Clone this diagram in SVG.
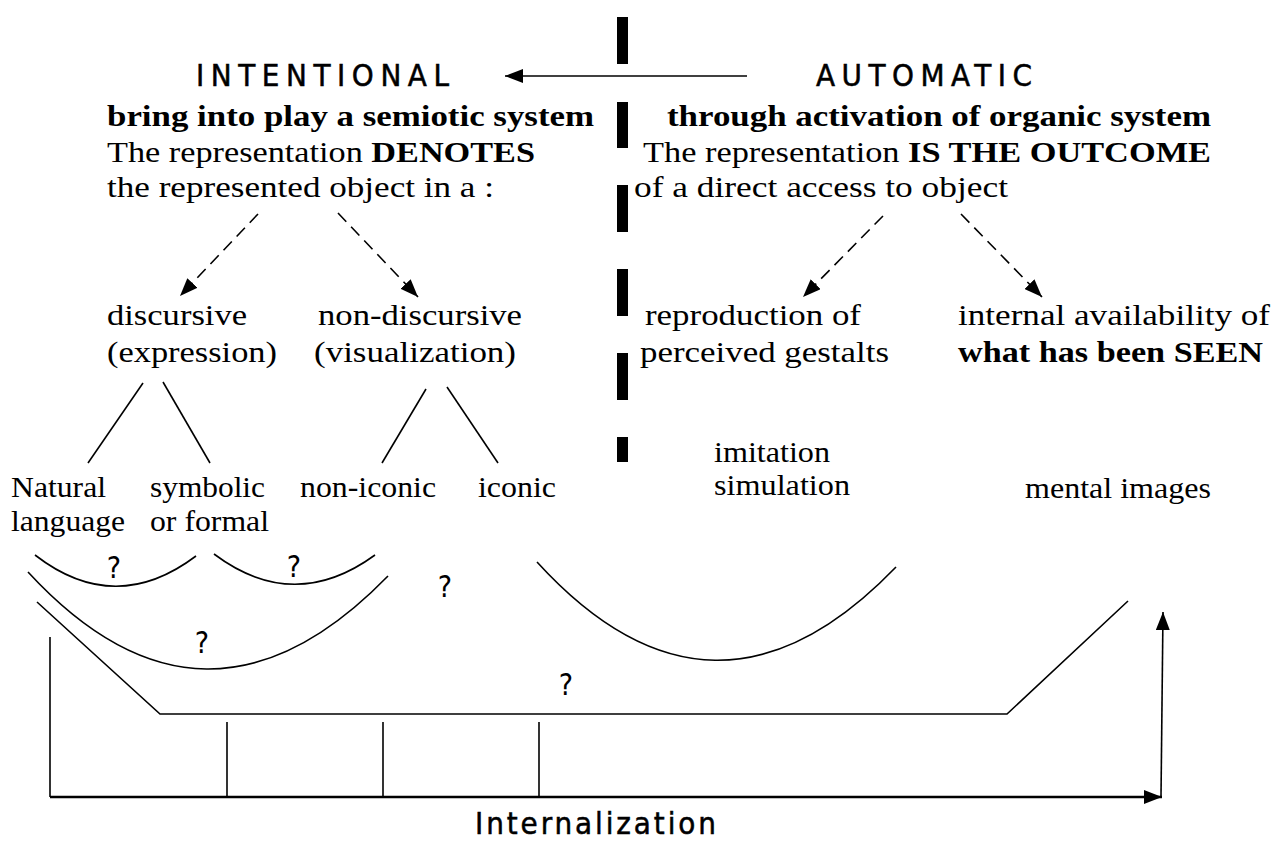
<svg xmlns="http://www.w3.org/2000/svg" width="1277" height="844" viewBox="0 0 1277 844">
<defs>
<style>
.s{font-family:"Liberation Serif","Times New Roman",serif;font-size:30px;fill:#000}
.b{font-weight:bold}
.h{font-family:"Liberation Sans Narrow","DejaVu Sans Condensed","Liberation Sans",Arial,sans-serif;font-size:31px;fill:#000;stroke:#000;stroke-width:0.5}
.q{font-family:"Liberation Sans Narrow","DejaVu Sans Condensed","Liberation Sans",Arial,sans-serif;font-size:30px;fill:#000}
.ln{stroke:#000;stroke-width:1.6;fill:none}
.ax{stroke:#000;stroke-width:2.6;fill:none}
.dl{stroke:#000;stroke-width:1.6;fill:none;stroke-dasharray:12,7}
</style>
<marker id="ah" viewBox="0 0 10 10" refX="10" refY="5" markerWidth="18" markerHeight="14" markerUnits="userSpaceOnUse" orient="auto" preserveAspectRatio="none">
<path d="M0,0 L10,5 L0,10 z" fill="#000"/>
</marker>
</defs>
<rect width="1277" height="844" fill="#fff"/>

<g id="divider">
<rect x="617" y="17" width="11" height="47" fill="#000"/>
<rect x="617" y="102" width="11" height="46" fill="#000"/>
<rect x="617" y="185" width="11" height="47" fill="#000"/>
<rect x="617" y="269" width="11" height="47" fill="#000"/>
<rect x="617" y="353" width="11" height="47" fill="#000"/>
<rect x="617" y="437" width="11" height="25" fill="#000"/>
</g>

<g id="intentional">
<text class="h" x="196" y="86" textLength="253" lengthAdjust="spacing">INTENTIONAL</text>
<text class="s b" x="107" y="126" textLength="487" lengthAdjust="spacingAndGlyphs">bring into play a semiotic system</text>
<text class="s" x="107" y="162" textLength="428" lengthAdjust="spacingAndGlyphs">The representation <tspan class="b">DENOTES</tspan></text>
<text class="s" x="107" y="197" textLength="387" lengthAdjust="spacingAndGlyphs">the represented object in a :</text>
</g>

<g id="automatic">
<text class="h" x="816" y="86" textLength="216" lengthAdjust="spacing">AUTOMATIC</text>
<text class="s b" x="667" y="126" textLength="544" lengthAdjust="spacingAndGlyphs">through activation of organic system</text>
<text class="s" x="643" y="162" textLength="568" lengthAdjust="spacingAndGlyphs">The representation <tspan class="b">IS THE OUTCOME</tspan></text>
<text class="s" x="634" y="197" textLength="374" lengthAdjust="spacingAndGlyphs">of a direct access to object</text>
</g>

<g id="discursive">
<text class="s" x="107" y="325" textLength="140" lengthAdjust="spacingAndGlyphs">discursive</text>
<text class="s" x="107" y="362" textLength="170" lengthAdjust="spacingAndGlyphs">(expression)</text>
</g>
<g id="nondiscursive">
<text class="s" x="318" y="325" textLength="204" lengthAdjust="spacingAndGlyphs">non-discursive</text>
<text class="s" x="314" y="362" textLength="202" lengthAdjust="spacingAndGlyphs">(visualization)</text>
</g>
<g id="reproduction">
<text class="s" x="645" y="325" textLength="216" lengthAdjust="spacingAndGlyphs">reproduction of</text>
<text class="s" x="640" y="362" textLength="249" lengthAdjust="spacingAndGlyphs">perceived gestalts</text>
</g>
<g id="internal">
<text class="s" x="958" y="325" textLength="312" lengthAdjust="spacingAndGlyphs">internal availability of</text>
<text class="s b" x="958" y="362" textLength="305" lengthAdjust="spacingAndGlyphs">what has been SEEN</text>
</g>

<g id="natural"><text class="s" x="11" y="497" textLength="95" lengthAdjust="spacingAndGlyphs">Natural</text><text class="s" x="11" y="531" textLength="114" lengthAdjust="spacingAndGlyphs">language</text></g>
<g id="symbolic"><text class="s" x="150" y="497" textLength="115" lengthAdjust="spacingAndGlyphs">symbolic</text><text class="s" x="150" y="531" textLength="119" lengthAdjust="spacingAndGlyphs">or formal</text></g>
<g id="noniconic"><text class="s" x="300" y="497" textLength="136" lengthAdjust="spacingAndGlyphs">non-iconic</text></g>
<g id="iconic"><text class="s" x="478" y="497" textLength="78" lengthAdjust="spacingAndGlyphs">iconic</text></g>
<g id="imitation"><text class="s" x="714" y="462" textLength="116" lengthAdjust="spacingAndGlyphs">imitation</text><text class="s" x="714" y="495" textLength="136" lengthAdjust="spacingAndGlyphs">simulation</text></g>
<g id="mental"><text class="s" x="1025" y="498" textLength="186" lengthAdjust="spacingAndGlyphs">mental images</text></g>

<g id="questions">
<text class="q" x="114" y="578" text-anchor="middle">?</text>
<text class="q" x="294" y="577" text-anchor="middle">?</text>
<text class="q" x="445" y="597" text-anchor="middle">?</text>
<text class="q" x="202" y="653" text-anchor="middle">?</text>
<text class="q" x="566" y="695" text-anchor="middle">?</text>
</g>

<g id="internalization">
<text class="h" x="475" y="834" textLength="241" lengthAdjust="spacing">Internalization</text>
</g>

<g id="connectors">
<line class="ln" x1="747" y1="76" x2="505" y2="76" marker-end="url(#ah)"/>
<line class="dl" x1="258" y1="214" x2="180" y2="296" marker-end="url(#ah)"/>
<line class="dl" x1="338" y1="213" x2="418" y2="297" marker-end="url(#ah)"/>
<line class="dl" x1="883" y1="216" x2="803" y2="297" marker-end="url(#ah)"/>
<line class="dl" x1="961" y1="214" x2="1042" y2="297" marker-end="url(#ah)"/>
<line class="ln" x1="143" y1="383" x2="88" y2="463"/>
<line class="ln" x1="163" y1="382" x2="210" y2="463"/>
<line class="ln" x1="426" y1="389" x2="382" y2="463"/>
<line class="ln" x1="447" y1="387" x2="498" y2="463"/>
<path class="ln" d="M35,555 Q115,617 196,556"/>
<path class="ln" d="M214,554 Q294,614 375,555"/>
<path class="ln" d="M28,572 Q205,764 388,576"/>
<path class="ln" d="M537,562 Q714,756 896,567"/>
<polyline class="ln" points="37,602 160,714 1007,714 1128,601"/>
<line class="ln" x1="50" y1="637" x2="50" y2="797"/>
<line class="ln" x1="227" y1="722" x2="227" y2="797"/>
<line class="ln" x1="383" y1="722" x2="383" y2="797"/>
<line class="ln" x1="539" y1="722" x2="539" y2="797"/>
<line class="ax" x1="50" y1="797" x2="1162" y2="797" marker-end="url(#ah)"/>
<line class="ln" x1="1161" y1="797" x2="1163" y2="612" marker-end="url(#ah)"/>
</g>
</svg>
